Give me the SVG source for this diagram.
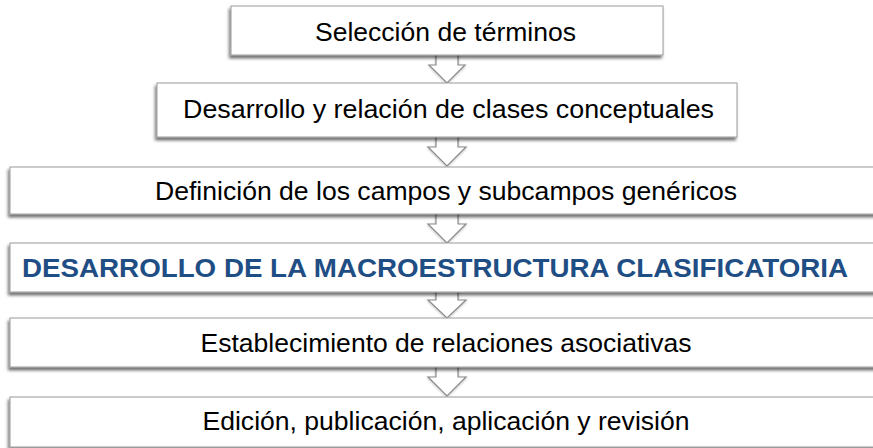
<svg xmlns="http://www.w3.org/2000/svg" width="873" height="448" viewBox="0 0 873 448">
<defs>
<filter id="sh" x="-5%" y="-20%" width="110%" height="150%">
<feDropShadow dx="-1.5" dy="3" stdDeviation="1.6" flood-color="#000" flood-opacity="0.55"/>
</filter>
<filter id="ash" x="-30%" y="-30%" width="160%" height="160%">
<feDropShadow dx="0" dy="1" stdDeviation="1.2" flood-color="#000" flood-opacity="0.25"/>
</filter>
</defs>
<style>
.box{fill:#ffffff;stroke:#9a9a9a;stroke-width:1;filter:url(#sh)}
.arr{fill:#ffffff;stroke:#8a8a8a;stroke-width:1.2;filter:url(#ash)}
.t{font-family:"Liberation Sans",Arial,sans-serif;font-size:26.5px;fill:#000;text-anchor:middle}
.tb{font-family:"Liberation Sans",Arial,sans-serif;font-size:26px;font-weight:bold;fill:#1F4E85;text-anchor:middle}
</style>
<rect width="873" height="448" fill="#ffffff"/>
<g id="connectors">
<path class="arr" d="M436,48 H458 V65 H465 L447,83 L429,65 H436 Z"/>
<path class="arr" d="M436,130 H458 V147 H466 L447,166 L428,147 H436 Z"/>
<path class="arr" d="M436,207 H458 V224 H466 L447,243 L428,224 H436 Z"/>
<path class="arr" d="M436,285 H458 V300 H466 L447,318 L428,300 H436 Z"/>
<path class="arr" d="M436,360 H458 V377 H466 L447,396 L428,377 H436 Z"/>
</g>
<g id="n1">
<rect class="box" x="231" y="6" width="432" height="49"/>
<text class="t" x="445.5" y="41" textLength="261" lengthAdjust="spacingAndGlyphs">Selección de términos</text>
</g>
<g id="n2">
<rect class="box" x="157" y="83" width="580" height="54"/>
<text class="t" x="448.5" y="118" textLength="531" lengthAdjust="spacingAndGlyphs">Desarrollo y relación de clases conceptuales</text>
</g>
<g id="n3">
<rect class="box" x="10" y="167" width="875" height="47"/>
<text class="t" x="446" y="200" textLength="582" lengthAdjust="spacingAndGlyphs">Definición de los campos y subcampos genéricos</text>
</g>
<g id="n4">
<rect class="box" x="10" y="243" width="875" height="49"/>
<text class="tb" x="435" y="277" textLength="826" lengthAdjust="spacingAndGlyphs">DESARROLLO DE LA MACROESTRUCTURA CLASIFICATORIA</text>
</g>
<g id="n5">
<rect class="box" x="10" y="318" width="875" height="49"/>
<text class="t" x="446" y="352" textLength="491" lengthAdjust="spacingAndGlyphs">Establecimiento de relaciones asociativas</text>
</g>
<g id="n6">
<rect class="box" x="10" y="397" width="875" height="50"/>
<text class="t" x="446" y="430" textLength="487" lengthAdjust="spacingAndGlyphs">Edición, publicación, aplicación y revisión</text>
</g>
</svg>
